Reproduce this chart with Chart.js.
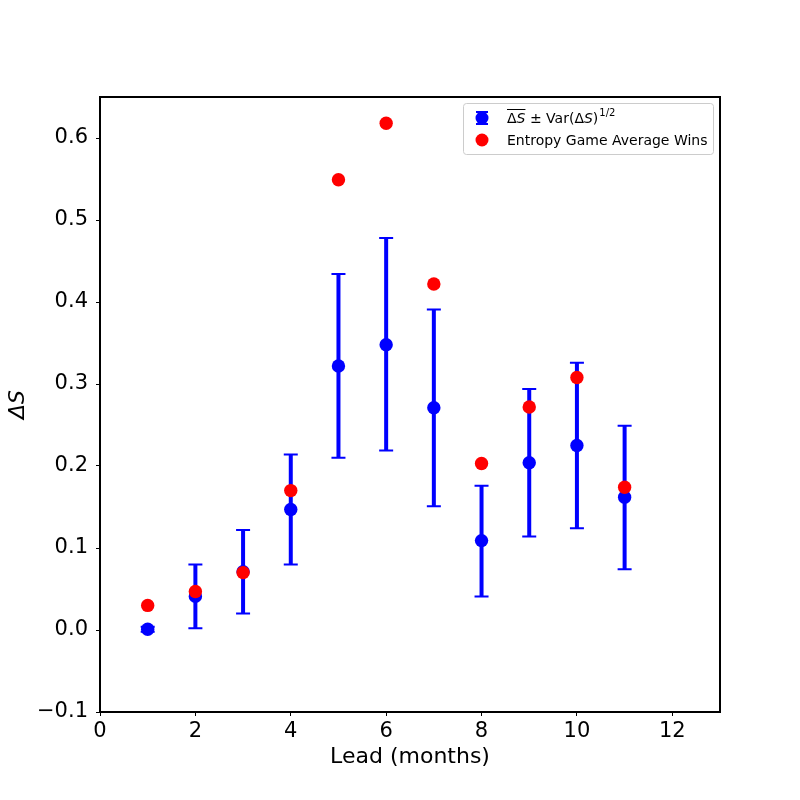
<!DOCTYPE html>
<html>
<head>
<meta charset="utf-8">
<script src="https://cdn.jsdelivr.net/npm/chart.js@4/dist/chart.umd.min.js"></script>
<style>
  html, body { margin: 0; padding: 0; background: #fff; }
  #wrap { width: 800px; height: 800px; }
</style>
</head>
<body>
<div id="wrap"><canvas id="chart" width="800" height="800"></canvas></div>
<script>
// values
var leads = [1, 2, 3, 4, 5, 6, 7, 8, 9, 10, 11];
var meanDeltaS = [0.001, 0.041, 0.071, 0.147, 0.322, 0.348, 0.271, 0.109, 0.204, 0.225, 0.162];
var errLow = [-0.002, 0.002, 0.020, 0.080, 0.210, 0.219, 0.151, 0.041, 0.114, 0.124, 0.074];
var errHigh = [0.004, 0.080, 0.122, 0.214, 0.434, 0.478, 0.391, 0.176, 0.294, 0.326, 0.249];
var gameWins = [0.030, 0.047, 0.070, 0.170, 0.549, 0.618, 0.422, 0.203, 0.272, 0.308, 0.174];
var xTicks = [0, 2, 4, 6, 8, 10, 12];
var yTicks = [-0.1, 0, 0.1, 0.2, 0.3, 0.4, 0.5, 0.6];

var FONT = "'DejaVu Sans', sans-serif";

function pts(ys) {
    return leads.map(function(x, i) { return { x: x, y: ys[i] }; });
}

// error bars, drawn below the dots
var errorBars = {
    id: 'errorBars',
    beforeDatasetsDraw: function(chart) {
        var ctx = chart.ctx;
        var xs = chart.scales.x, ys = chart.scales.y;
        ctx.save();
        ctx.strokeStyle = '#0000ff';
        for (var i = 0; i < leads.length; i++) {
            var px = xs.getPixelForValue(leads[i]);
            var top = ys.getPixelForValue(errHigh[i]);
            var bot = ys.getPixelForValue(errLow[i]);
            ctx.lineWidth = 4;
            ctx.beginPath();
            ctx.moveTo(px, top);
            ctx.lineTo(px, bot);
            ctx.stroke();
            ctx.lineWidth = 2;
            ctx.beginPath();
            ctx.moveTo(px - 7, top); ctx.lineTo(px + 7, top);
            ctx.moveTo(px - 7, bot); ctx.lineTo(px + 7, bot);
            ctx.stroke();
        }
        ctx.restore();
    }
};

// black frame plus a matplotlib-like legend box
var frameAndLegend = {
    id: 'frameAndLegend',
    afterDraw: function(chart) {
        var ctx = chart.ctx;
        var a = chart.chartArea;
        ctx.save();
        ctx.strokeStyle = '#000';
        ctx.lineWidth = 2;
        ctx.strokeRect(a.left, a.top, a.right - a.left, a.bottom - a.top);

        // legend
        var lx = 463, ly = 103, lw = 250, lh = 51;
        ctx.fillStyle = 'rgba(255,255,255,0.8)';
        ctx.strokeStyle = '#cccccc';
        ctx.lineWidth = 1;
        ctx.beginPath();
        if (ctx.roundRect) ctx.roundRect(lx + 0.5, ly + 0.5, lw, lh, 3); else ctx.rect(lx + 0.5, ly + 0.5, lw, lh);
        ctx.fill();
        ctx.stroke();

        // blue marker with error caps
        var mx = 482, my1 = 118, my2 = 140;
        ctx.strokeStyle = '#0000ff';
        ctx.lineWidth = 4;
        ctx.beginPath(); ctx.moveTo(mx, my1 - 6); ctx.lineTo(mx, my1 + 6); ctx.stroke();
        ctx.lineWidth = 2;
        ctx.beginPath();
        ctx.moveTo(mx - 6, my1 - 6); ctx.lineTo(mx + 6, my1 - 6);
        ctx.moveTo(mx - 6, my1 + 6); ctx.lineTo(mx + 6, my1 + 6);
        ctx.stroke();
        ctx.fillStyle = '#0000ff';
        ctx.beginPath(); ctx.arc(mx, my1, 6.5, 0, Math.PI * 2); ctx.fill();
        ctx.fillStyle = '#ff0000';
        ctx.beginPath(); ctx.arc(mx, my2, 6.5, 0, Math.PI * 2); ctx.fill();

        // label 1: overline(ΔS) ± Var(ΔS)^{1/2}
        ctx.fillStyle = '#000';
        ctx.textBaseline = 'alphabetic';
        var tx = 507, base1 = 123;
        ctx.font = '14px ' + FONT;
        var wD = ctx.measureText('Δ').width;
        ctx.fillText('Δ', tx, base1);
        ctx.font = 'italic 14px ' + FONT;
        var wS = ctx.measureText('S').width;
        ctx.fillText('S', tx + wD, base1);
        ctx.lineWidth = 1;
        ctx.strokeStyle = '#000';
        ctx.beginPath();
        ctx.moveTo(tx, base1 - 13.5); ctx.lineTo(tx + wD + wS, base1 - 13.5);
        ctx.stroke();
        var cx = tx + wD + wS;
        ctx.font = '14px ' + FONT;
        var s1 = ' ± Var(Δ';
        ctx.fillText(s1, cx, base1);
        cx += ctx.measureText(s1).width;
        ctx.font = 'italic 14px ' + FONT;
        ctx.fillText('S', cx, base1);
        cx += ctx.measureText('S').width;
        ctx.font = '14px ' + FONT;
        ctx.fillText(')', cx, base1);
        cx += ctx.measureText(')').width;
        ctx.font = '10px ' + FONT;
        ctx.fillText('1/2', cx + 1, base1 - 7);

        ctx.font = '14px ' + FONT;
        ctx.fillText('Entropy Game Average Wins', tx, 145);
        ctx.restore();
    }
};

var ctx = document.getElementById('chart').getContext('2d');
var chart = new Chart(ctx, {
    type: 'scatter',
    data: {
        datasets: [{
            label: 'Entropy Game Average Wins',
            data: pts(gameWins),
            backgroundColor: '#ff0000',
            borderWidth: 0,
            pointRadius: 6.7,
            pointHoverRadius: 6.7
        }, {
            label: 'ΔS ± Var(ΔS)^1/2',
            data: pts(meanDeltaS),
            backgroundColor: '#0000ff',
            borderWidth: 0,
            pointRadius: 6.7,
            pointHoverRadius: 6.7
        }]
    },
    options: {
        responsive: false,
        animation: false,
        events: [],
        layout: { padding: { left: 0, right: 80, top: 97, bottom: 30 } },
        plugins: {
            legend: { display: false },
            tooltip: { enabled: false }
        },
        scales: {
            x: {
                type: 'linear',
                min: 0,
                max: 13,
                afterBuildTicks: function(axis) {
                    axis.ticks = xTicks.map(function(v) { return { value: v }; });
                },
                afterFit: function(axis) { axis.height = 58; },
                grid: { drawOnChartArea: false, drawTicks: true, tickLength: 4, tickColor: '#000', tickWidth: 1 },
                border: { display: false },
                ticks: {
                    color: '#000',
                    font: { family: FONT, size: 21 },
                    padding: 3,
                    maxRotation: 0,
                    callback: function(v) { return String(v); }
                },
                title: {
                    display: true,
                    text: 'Lead (months)',
                    color: '#000',
                    font: { family: FONT, size: 22 },
                    padding: 0
                }
            },
            y: {
                type: 'linear',
                min: -0.1,
                max: 0.65,
                afterBuildTicks: function(axis) {
                    axis.ticks = yTicks.map(function(v) { return { value: v }; });
                },
                afterFit: function(axis) { axis.width = 100; },
                grid: { drawOnChartArea: false, drawTicks: true, tickLength: 4, tickColor: '#000', tickWidth: 1 },
                border: { display: false },
                ticks: {
                    color: '#000',
                    font: { family: FONT, size: 21 },
                    padding: 8,
                    callback: function(v) {
                        var s = Math.abs(v).toFixed(1);
                        return v < -1e-9 ? '\u2212' + s : s;
                    }
                },
                title: {
                    display: true,
                    text: 'ΔS',
                    color: '#000',
                    font: { family: FONT, size: 22, style: 'italic' },
                    padding: 5
                }
            }
        }
    },
    plugins: [errorBars, frameAndLegend]
});
</script>
</body>
</html>
